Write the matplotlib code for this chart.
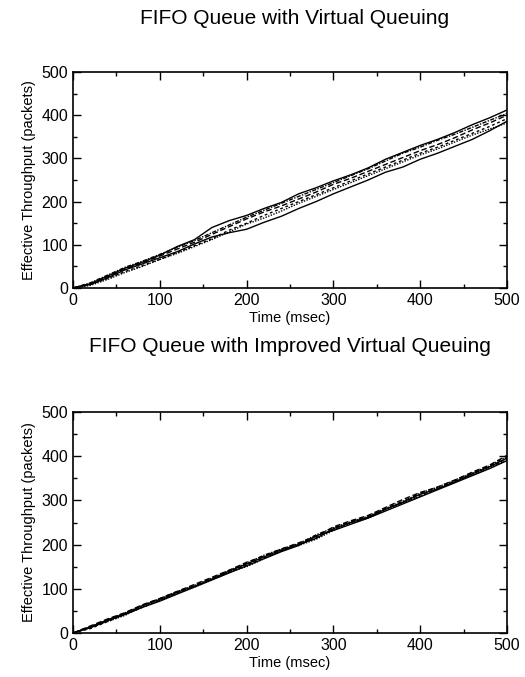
import matplotlib
matplotlib.use("Agg")
from matplotlib import pyplot as plt
from matplotlib import ticker

plt.rcParams['font.family'] = ['Liberation Sans', 'DejaVu Sans']

# time axis (msec), sampled every 20 msec
time_ms = [0, 20, 40, 60, 80, 100, 120, 140, 160, 180, 200, 220, 240,
           260, 280, 300, 320, 340, 360, 380, 400, 420, 440, 460, 480, 500]

# FIFO queue with virtual queuing: cumulative packets per flow
vq_flow1 = [0, 10, 28, 46, 60, 76, 96, 112, 140, 156, 168, 184, 198,
            218, 232, 248, 262, 278, 298, 314, 330, 344, 360, 378, 394, 412]
vq_flow2 = [0, 8, 24, 42, 56, 70, 84, 102, 118, 128, 136, 152, 166,
            184, 200, 218, 234, 250, 268, 280, 298, 312, 328, 344, 364, 386]
vq_flow3 = [0, 10, 26, 44, 58, 74, 90, 106, 124, 142, 160, 176, 190,
            206, 222, 240, 254, 270, 286, 302, 318, 332, 348, 366, 382, 400]
vq_flow4 = [0, 6, 20, 36, 50, 66, 80, 96, 112, 130, 148, 162, 178,
            196, 212, 228, 244, 260, 276, 292, 308, 322, 338, 354, 368, 382]
vq_flow5 = [0, 12, 30, 48, 62, 78, 94, 110, 128, 146, 164, 180, 196,
            212, 228, 244, 260, 276, 294, 312, 326, 342, 356, 372, 388, 404]
vq_flow6 = [0, 8, 22, 38, 52, 66, 82, 98, 114, 134, 150, 168, 184,
            200, 216, 232, 248, 264, 280, 296, 312, 326, 342, 358, 374, 392]

# FIFO queue with improved virtual queuing
ivq_flow1 = [0, 14, 30, 44, 62, 76, 92, 106, 122, 140, 156, 172, 188,
             200, 214, 236, 250, 262, 280, 296, 314, 326, 342, 360, 376, 396]
ivq_flow2 = [0, 12, 28, 42, 58, 72, 88, 104, 120, 136, 152, 168, 184,
             198, 220, 232, 246, 260, 276, 292, 308, 324, 340, 356, 372, 390]
ivq_flow3 = [0, 16, 32, 46, 64, 78, 94, 110, 126, 142, 160, 174, 190,
             204, 218, 240, 254, 266, 284, 302, 318, 330, 346, 364, 380, 402]
ivq_flow4 = [0, 12, 26, 40, 60, 74, 90, 104, 120, 138, 150, 168, 186,
             198, 212, 232, 248, 260, 278, 294, 310, 328, 342, 358, 374, 392]
ivq_flow5 = [0, 14, 30, 46, 62, 78, 94, 108, 124, 142, 158, 176, 190,
             202, 222, 238, 252, 264, 282, 298, 316, 330, 346, 362, 378, 400]
ivq_flow6 = [0, 10, 26, 42, 58, 74, 90, 106, 122, 138, 154, 170, 186,
             200, 216, 234, 250, 262, 280, 296, 312, 326, 344, 360, 376, 394]

vq_flows = [vq_flow1, vq_flow2, vq_flow3, vq_flow4, vq_flow5, vq_flow6]
ivq_flows = [ivq_flow1, ivq_flow2, ivq_flow3, ivq_flow4, ivq_flow5, ivq_flow6]

styles = ['-', '-', (0, (4, 2)), (0, (1, 1)), (0, (3, 1, 1, 1)), (0, (2, 2))]

x_ticks = [0, 100, 200, 300, 400, 500]
y_ticks = [0, 100, 200, 300, 400, 500]

W, H = 525, 677
fig = plt.figure(figsize=(W / 100, H / 100), dpi=100)


def make_axes(top_px, bottom_px):
    left, right = 73, 507
    return fig.add_axes([left / W, 1 - bottom_px / H,
                         (right - left) / W, (bottom_px - top_px) / H])


def style_axes(ax: plt.Axes) -> None:
    ax.set_xlim(0, 500)
    ax.set_ylim(0, 500)
    ax.set_xticks(x_ticks)
    ax.set_yticks(y_ticks)
    ax.xaxis.set_minor_locator(ticker.MultipleLocator(50))
    ax.yaxis.set_minor_locator(ticker.MultipleLocator(50))
    ax.tick_params(which='both', direction='in', top=True, right=True,
                   labelsize=11.5, width=1.0)
    ax.tick_params(which='major', length=6)
    ax.tick_params(which='minor', length=3)
    for s in ax.spines.values():
        s.set_linewidth(1.2)
    ax.set_xlabel('Time (msec)', fontsize=10.5, labelpad=2)
    ax.set_ylabel('Effective Throughput (packets)', fontsize=10.5, labelpad=4)


ax1 = make_axes(72, 288)
for flow, ls in zip(vq_flows, styles):
    ax1.plot(time_ms, flow, color='black', linestyle=ls, linewidth=1.0)
style_axes(ax1)

ax2 = make_axes(412, 633)
for flow, ls in zip(ivq_flows, styles):
    ax2.plot(time_ms, flow, color='black', linestyle=ls, linewidth=1.0)
style_axes(ax2)

fig.text(295 / W, 1 - 18 / H, 'FIFO Queue with Virtual Queuing',
         ha='center', va='center', fontsize=15)
fig.text(290 / W, 1 - 347 / H, 'FIFO Queue with Improved Virtual Queuing',
         ha='center', va='center', fontsize=15)

fig.savefig('out.png', dpi=100)
